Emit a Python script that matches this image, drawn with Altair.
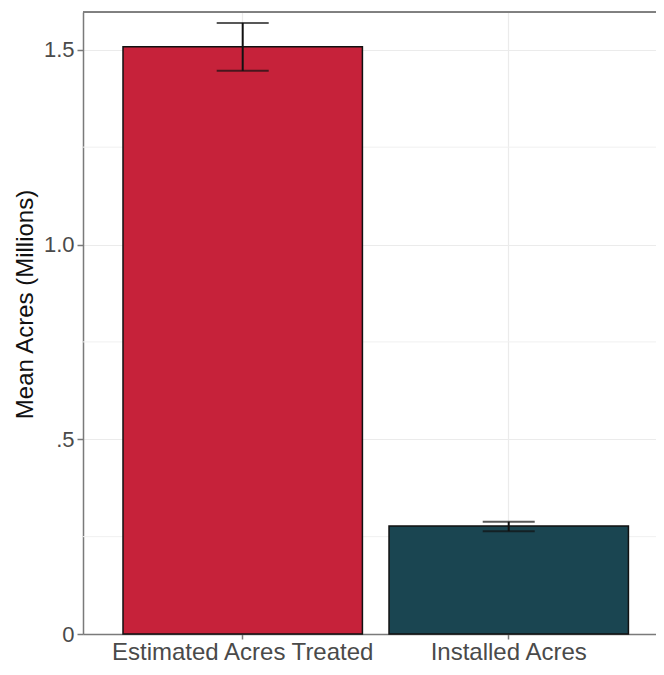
import altair as alt
import pandas as pd

categories = ["Estimated Acres Treated", "Installed Acres"]
means = [1.508, 0.277]
err_low = [1.446, 0.264]
err_high = [1.569, 0.288]
colors = ["#C6223A", "#1A4551"]
minor_grid = [0.25, 0.75, 1.25]
major_ticks = [0, 0.5, 1.0, 1.5]

df = pd.DataFrame({"cat": categories, "mean": means, "lo": err_low, "hi": err_high, "color": colors})
minor_df = pd.DataFrame({"v": minor_grid})

W, H = 573, 622
YMAX = 1.597
FONT = "Liberation Sans"

xscale = alt.Scale(domain=categories, paddingInner=0.1, paddingOuter=0.127, align=0.592)
yscale = alt.Scale(domain=[0, YMAX], nice=False, zero=True)

xaxis = alt.Axis(title=None, labelFontSize=24, labelColor="#4a4a4a", labelFont=FONT, labelLimit=0,
                 labelAngle=0, labelPadding=1, tickSize=5, tickColor="#7a7a7a", tickWidth=1.5,
                 domainColor="#7a7a7a", domainWidth=1.5, grid=True, gridColor="#ebebeb", gridWidth=1.2)
yaxis = alt.Axis(title="Mean Acres (Millions)", values=major_ticks,
                 labelExpr="datum.value == 0 ? '0' : (datum.value == 0.5 ? '.5' : format(datum.value, '.1f'))",
                 labelFontSize=22, labelColor="#4a4a4a", labelFont=FONT, labelPadding=3,
                 tickSize=6, tickColor="#7a7a7a", tickWidth=1.5,
                 domainColor="#7a7a7a", domainWidth=1.5, grid=True, gridColor="#ebebeb", gridWidth=1.2,
                 titleFontSize=24, titleFont=FONT, titleFontWeight="normal", titleColor="#111111",
                 titleX=-51, titleY=292, titleAngle=-90, titleBaseline="alphabetic", titleAlign="center")

minor = alt.Chart(minor_df).mark_rule(color="#f0f0f0", strokeWidth=1).encode(
    y=alt.Y("v:Q", scale=yscale, axis=yaxis)
)

bars = alt.Chart(df).mark_bar(stroke="#111111", strokeWidth=1.5).encode(
    x=alt.X("cat:N", scale=xscale, axis=xaxis, sort=categories),
    y=alt.Y("mean:Q", scale=yscale, axis=yaxis),
    fill=alt.Fill("color:N", scale=None),
)

err = alt.Chart(df).mark_rule(color="#111111", strokeWidth=2).encode(
    x=alt.X("cat:N", scale=xscale, axis=xaxis, sort=categories),
    y=alt.Y("lo:Q", scale=yscale, axis=yaxis),
    y2="hi:Q",
)
cap_lo = alt.Chart(df).mark_tick(color="#111111", thickness=2, size=52, orient="horizontal").encode(
    x=alt.X("cat:N", scale=xscale, axis=xaxis, sort=categories),
    y=alt.Y("lo:Q", scale=yscale, axis=yaxis),
)
cap_hi = alt.Chart(df).mark_tick(color="#111111", thickness=2, size=52, orient="horizontal").encode(
    x=alt.X("cat:N", scale=xscale, axis=xaxis, sort=categories),
    y=alt.Y("hi:Q", scale=yscale, axis=yaxis),
)
top_border = alt.Chart(df).mark_rule(color="#7a7a7a", strokeWidth=1.5).encode(
    x=alt.value(0), x2=alt.value(W), y=alt.value(0)
)

chart = alt.layer(minor, bars, err, cap_lo, cap_hi, top_border).properties(
    width=W, height=H,
    autosize=alt.AutoSizeParams(type="none"),
    padding={"left": 75, "top": 4, "right": 0, "bottom": 33},
).configure_view(stroke=None).configure(background="white")

chart.save("out.html", embed_options={"renderer": "svg", "actions": False})
